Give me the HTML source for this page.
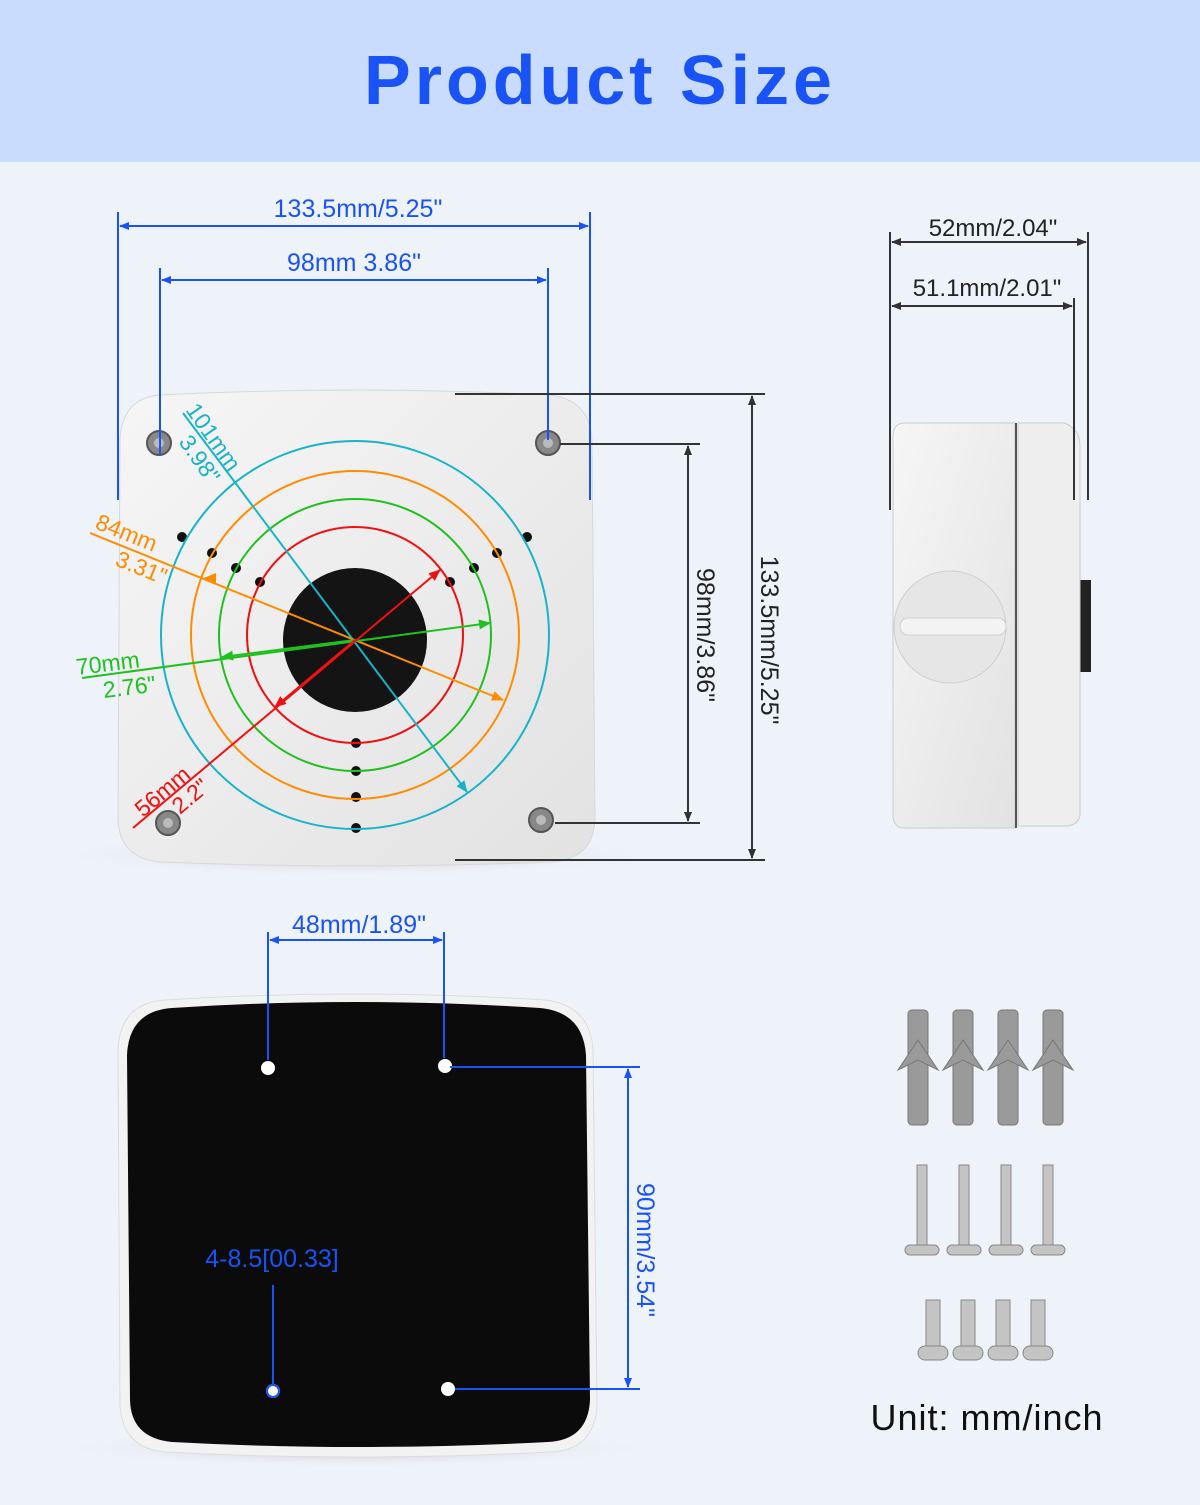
<!DOCTYPE html>
<html><head><meta charset="utf-8"><style>
html,body{margin:0;padding:0;}
body{width:1200px;height:1500px;background:#eef2f9;font-family:"Liberation Sans",sans-serif;overflow:hidden;}
svg text{font-family:"Liberation Sans",sans-serif;}
</style></head><body>
<svg width="1200" height="1500" viewBox="0 0 1200 1500" xmlns="http://www.w3.org/2000/svg">
<defs>
<marker id="ab" markerWidth="10" markerHeight="8" refX="9" refY="4" orient="auto-start-reverse" markerUnits="userSpaceOnUse"><path d="M0,0 L10,4 L0,8 z" fill="#1a53f5"/></marker>
<marker id="ak" markerWidth="10" markerHeight="8" refX="9" refY="4" orient="auto-start-reverse" markerUnits="userSpaceOnUse"><path d="M0,0 L10,4 L0,8 z" fill="#333"/></marker>
<marker id="ac" markerWidth="12" markerHeight="10" refX="11" refY="5" orient="auto-start-reverse" markerUnits="userSpaceOnUse"><path d="M0,0 L12,5 L0,10 z" fill="#19b3c8"/></marker>
<marker id="ao" markerWidth="12" markerHeight="10" refX="11" refY="5" orient="auto-start-reverse" markerUnits="userSpaceOnUse"><path d="M0,0 L12,5 L0,10 z" fill="#ff8c00"/></marker>
<marker id="ag" markerWidth="12" markerHeight="10" refX="11" refY="5" orient="auto-start-reverse" markerUnits="userSpaceOnUse"><path d="M0,0 L12,5 L0,10 z" fill="#20c020"/></marker>
<marker id="ar" markerWidth="12" markerHeight="10" refX="11" refY="5" orient="auto-start-reverse" markerUnits="userSpaceOnUse"><path d="M0,0 L12,5 L0,10 z" fill="#ee1111"/></marker>
<linearGradient id="wg" x1="0" y1="0" x2="1" y2="1"><stop offset="0" stop-color="#f6f6f6"/><stop offset="1" stop-color="#e2e2e2"/></linearGradient>
<radialGradient id="sh"><stop offset="0" stop-color="#bbb"/><stop offset="1" stop-color="#eef2f9" stop-opacity="0"/></radialGradient>
</defs>
<rect x="0" y="0" width="1200" height="162" fill="#c9dcfd"/>
<text x="600" y="104" text-anchor="middle" font-size="70" font-weight="bold" fill="#1a53f5" letter-spacing="4">Product Size</text>

<ellipse cx="355" cy="855" rx="300" ry="22" fill="url(#sh)"/>
<path d="M160,395 Q355,385 550,395 Q590,400 592,440 L595,820 Q593,860 550,862 Q355,870 160,862 Q120,858 118,820 L120,440 Q122,398 160,395 Z" fill="url(#wg)" stroke="#d8d8d8"/>
<g fill="#888" stroke="#555" stroke-width="2">
<circle cx="159" cy="443" r="12"/><circle cx="548" cy="443" r="12"/><circle cx="168" cy="823" r="12"/><circle cx="541" cy="820" r="12"/></g>
<g fill="#bbb"><circle cx="159" cy="443" r="5"/><circle cx="548" cy="443" r="5"/><circle cx="168" cy="823" r="5"/><circle cx="541" cy="820" r="5"/></g>
<circle cx="355" cy="640" r="72" fill="#141414"/>
<g fill="#111"><circle cx="182" cy="537" r="5"/><circle cx="212" cy="553" r="5"/><circle cx="236" cy="568" r="5"/><circle cx="260" cy="582" r="5"/><circle cx="527" cy="537" r="5"/><circle cx="497" cy="553" r="5"/><circle cx="474" cy="568" r="5"/><circle cx="450" cy="582" r="5"/><circle cx="356" cy="743" r="5"/><circle cx="356" cy="771" r="5"/><circle cx="356" cy="797" r="5"/><circle cx="356" cy="828" r="5"/></g>
<g fill="none" stroke-width="2">
<circle cx="355" cy="635" r="194" stroke="#19b3c8"/>
<circle cx="355" cy="635" r="164" stroke="#ff8c00"/>
<circle cx="355" cy="635" r="136" stroke="#20c020"/>
<circle cx="355" cy="635" r="108" stroke="#ee1111"/>
</g>
<line x1="183" y1="413" x2="467" y2="792" stroke="#19b3c8" stroke-width="2" marker-end="url(#ac)"/>
<line x1="90" y1="533" x2="503" y2="700" stroke="#ff8c00" stroke-width="2" marker-end="url(#ao)"/>
<line x1="208" y1="578" x2="205" y2="578" stroke="#ff8c00" stroke-width="2" marker-end="url(#ao)"/>
<line x1="82" y1="678" x2="490" y2="623" stroke="#20c020" stroke-width="2" marker-end="url(#ag)"/>
<line x1="355" y1="640" x2="222" y2="657" stroke="#20c020" stroke-width="2" marker-end="url(#ag)"/>
<line x1="133" y1="828" x2="440" y2="570" stroke="#ee1111" stroke-width="2" marker-end="url(#ar)"/>
<line x1="355" y1="640" x2="275" y2="707" stroke="#ee1111" stroke-width="2" marker-end="url(#ar)"/>
<g font-size="23">
<text transform="translate(185,410) rotate(55)" fill="#19b3c8">101mm</text>
<text transform="translate(178,442) rotate(55)" fill="#19b3c8">3.98"</text>
<text transform="translate(94,528) rotate(22)" fill="#ff8c00">84mm</text>
<text transform="translate(114,565) rotate(22)" fill="#ff8c00">3.31"</text>
<text transform="translate(77,675) rotate(-7)" fill="#20c020">70mm</text>
<text transform="translate(104,698) rotate(-7)" fill="#20c020">2.76"</text>
<text transform="translate(143,818) rotate(-40)" fill="#ee1111">56mm</text>
<text transform="translate(180,815) rotate(-40)" fill="#ee1111">2.2"</text>
</g>
<g stroke="#1a53f5" stroke-width="2">
<line x1="118" y1="212" x2="118" y2="500"/><line x1="590" y1="212" x2="590" y2="500"/>
<line x1="160" y1="268" x2="160" y2="455"/><line x1="548" y1="268" x2="548" y2="440"/>
<line x1="120" y1="226" x2="588" y2="226" marker-start="url(#ab)" marker-end="url(#ab)"/>
<line x1="162" y1="280" x2="546" y2="280" marker-start="url(#ab)" marker-end="url(#ab)"/>
</g>
<text x="358" y="217" text-anchor="middle" font-size="25" fill="#1a53f5">133.5mm/5.25"</text>
<text x="354" y="271" text-anchor="middle" font-size="25" fill="#1a53f5">98mm 3.86"</text>
<g stroke="#333" stroke-width="2">
<line x1="455" y1="394" x2="765" y2="394"/><line x1="455" y1="860" x2="765" y2="860"/>
<line x1="560" y1="444" x2="700" y2="444"/><line x1="555" y1="823" x2="700" y2="823"/>
<line x1="752" y1="396" x2="752" y2="858" marker-start="url(#ak)" marker-end="url(#ak)"/>
<line x1="688" y1="446" x2="688" y2="821" marker-start="url(#ak)" marker-end="url(#ak)"/>
</g>
<text transform="translate(697,635) rotate(90)" text-anchor="middle" font-size="25" fill="#222">98mm/3.86"</text>
<text transform="translate(761,640) rotate(90)" text-anchor="middle" font-size="25" fill="#222">133.5mm/5.25"</text>

<rect x="1075" y="580" width="16" height="92" fill="#222"/>
<path d="M905,423 L1015,423 L1015,828 L905,828 Q893,828 893,815 L893,437 Q893,423 905,423 Z" fill="url(#wg)" stroke="#ccc"/>
<path d="M1018,423 L1065,423 Q1080,430 1080,445 L1080,815 Q1078,826 1065,826 L1018,826 Z" fill="#eee" stroke="#ccc"/>
<line x1="1016" y1="423" x2="1016" y2="828" stroke="#555" stroke-width="2"/>
<circle cx="950" cy="627" r="56" fill="#e6e6e6" stroke="#cfcfcf"/>
<rect x="900" y="618" width="106" height="17" rx="8" fill="#f3f3f3" stroke="#d0d0d0"/>
<g stroke="#333" stroke-width="2">
<line x1="890" y1="232" x2="890" y2="510"/><line x1="1088" y1="232" x2="1088" y2="500"/>
<line x1="1074" y1="298" x2="1074" y2="500"/>
<line x1="892" y1="242" x2="1086" y2="242" marker-start="url(#ak)" marker-end="url(#ak)"/>
<line x1="892" y1="306" x2="1072" y2="306" marker-start="url(#ak)" marker-end="url(#ak)"/>
</g>
<text x="993" y="236" text-anchor="middle" font-size="24" fill="#222">52mm/2.04"</text>
<text x="987" y="296" text-anchor="middle" font-size="24" fill="#222">51.1mm/2.01"</text>

<ellipse cx="355" cy="1448" rx="300" ry="20" fill="url(#sh)"/>
<path d="M165,1000 Q355,988 545,1000 Q590,1005 593,1050 L597,1405 Q595,1450 550,1452 Q355,1462 165,1452 Q122,1448 120,1405 L118,1050 Q120,1003 165,1000 Z" fill="#f2f2f2" stroke="#ddd"/>
<path d="M172,1008 Q355,996 540,1008 Q583,1012 586,1055 L590,1400 Q588,1440 548,1442 Q355,1452 172,1442 Q131,1438 130,1400 L127,1055 Q129,1011 172,1008 Z" fill="#0b0b0b"/>
<g fill="#fff"><circle cx="268" cy="1068" r="7"/><circle cx="445" cy="1066" r="7"/><circle cx="273" cy="1391" r="7"/><circle cx="448" cy="1389" r="7"/></g>
<g stroke="#1a53f5" stroke-width="2">
<line x1="268" y1="932" x2="268" y2="1060"/><line x1="444" y1="932" x2="444" y2="1058"/>
<line x1="270" y1="940" x2="442" y2="940" marker-start="url(#ab)" marker-end="url(#ab)"/>
<line x1="450" y1="1067" x2="640" y2="1067"/><line x1="455" y1="1389" x2="640" y2="1389"/>
<line x1="628" y1="1069" x2="628" y2="1387" marker-start="url(#ab)" marker-end="url(#ab)"/>
<line x1="273" y1="1285" x2="273" y2="1385"/>
</g>
<circle cx="273" cy="1391" r="6" fill="#fff" stroke="#1a53f5" stroke-width="2"/>
<text x="359" y="933" text-anchor="middle" font-size="25" fill="#1a53f5">48mm/1.89"</text>
<text x="272" y="1267" text-anchor="middle" font-size="25" fill="#1a53f5">4-8.5[00.33]</text>
<text transform="translate(637,1250) rotate(90)" text-anchor="middle" font-size="25" fill="#1a53f5">90mm/3.54"</text>

<g fill="#9a9a9a" stroke="#777">
<g><rect x="908" y="1010" width="20" height="115" rx="4"/><path d="M918,1040 L898,1070 L918,1060 L938,1070 Z"/></g>
<g><rect x="953" y="1010" width="20" height="115" rx="4"/><path d="M963,1040 L943,1070 L963,1060 L983,1070 Z"/></g>
<g><rect x="998" y="1010" width="20" height="115" rx="4"/><path d="M1008,1040 L988,1070 L1008,1060 L1028,1070 Z"/></g>
<g><rect x="1043" y="1010" width="20" height="115" rx="4"/><path d="M1053,1040 L1033,1070 L1053,1060 L1073,1070 Z"/></g>
</g>
<g fill="#c4c4c4" stroke="#888">
<g><rect x="917" y="1165" width="10" height="80"/><rect x="905" y="1245" width="34" height="10" rx="5"/></g>
<g><rect x="959" y="1165" width="10" height="80"/><rect x="947" y="1245" width="34" height="10" rx="5"/></g>
<g><rect x="1001" y="1165" width="10" height="80"/><rect x="989" y="1245" width="34" height="10" rx="5"/></g>
<g><rect x="1043" y="1165" width="10" height="80"/><rect x="1031" y="1245" width="34" height="10" rx="5"/></g>
<g><rect x="926" y="1300" width="14" height="48"/><rect x="918" y="1346" width="30" height="14" rx="7"/></g>
<g><rect x="961" y="1300" width="14" height="48"/><rect x="953" y="1346" width="30" height="14" rx="7"/></g>
<g><rect x="996" y="1300" width="14" height="48"/><rect x="988" y="1346" width="30" height="14" rx="7"/></g>
<g><rect x="1031" y="1300" width="14" height="48"/><rect x="1023" y="1346" width="30" height="14" rx="7"/></g>
</g>
<text x="987" y="1430" text-anchor="middle" font-size="36" fill="#111" letter-spacing="1">Unit:  mm/inch</text>
</svg>
</body></html>
